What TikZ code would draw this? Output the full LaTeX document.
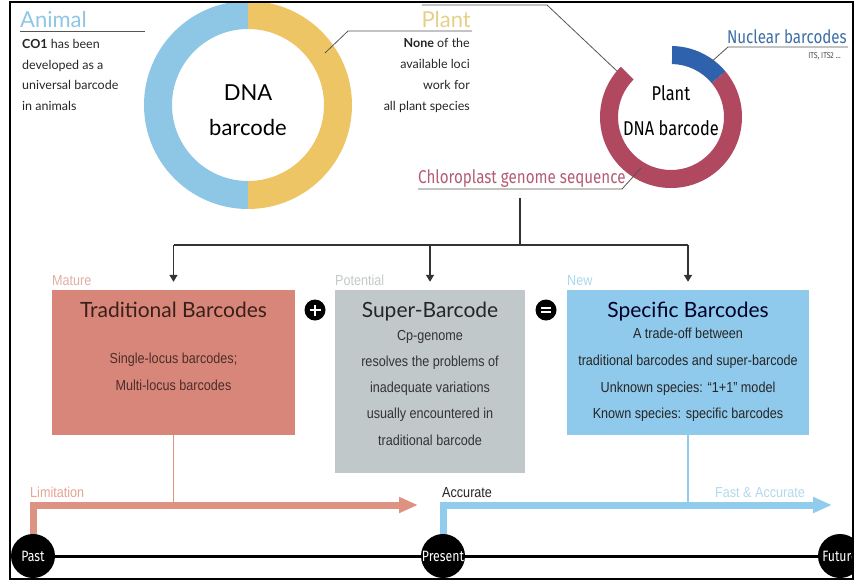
\documentclass[tikz,border=0pt]{standalone}
\usepackage{fontspec}
\setmainfont{Lato}
\newfontfamily\narrowfont[FakeStretch=0.87]{Liberation Sans}
\newfontfamily\condfont[FakeStretch=0.82]{Fira Sans}
\usetikzlibrary{arrows.meta,calc}
\definecolor{dnablue}{HTML}{8EC6E6}
\definecolor{dnayel}{HTML}{EDC565}
\definecolor{plantyel}{HTML}{E6CF88}
\definecolor{ringred}{HTML}{B0485F}
\definecolor{nucblue}{HTML}{2E62AC}
\definecolor{nuctext}{HTML}{3E6EA6}
\definecolor{chloroc}{HTML}{B35C74}
\definecolor{salmonbox}{HTML}{D8867A}
\definecolor{salmonarr}{HTML}{DE9282}
\definecolor{graybox}{HTML}{C1C8CA}
\definecolor{bluebox}{HTML}{8FC9EB}
\definecolor{bluearr}{HTML}{92CCEC}
\definecolor{maturec}{HTML}{E2ADA3}
\definecolor{potentialc}{HTML}{C3C7C9}
\definecolor{newc}{HTML}{A9D7EE}
\definecolor{limitc}{HTML}{E4A496}
\definecolor{fastc}{HTML}{B3D9EE}
\definecolor{leaderc}{HTML}{555555}
\definecolor{tradtitle}{HTML}{3B1F1A}
\definecolor{tradbody}{HTML}{4A2E28}
\newcommand\annsector[6]{%
  \fill[#1] ($(#2)+(#3:#5)$) arc[start angle=#3,end angle=#4,radius=#5]
    -- ($(#2)+(#4:#6)$) arc[start angle=#4,end angle=#3,radius=#6] -- cycle;}
\tikzset{
  smalltxt/.style={font=\fontsize{12.5}{14}\selectfont, inner sep=0pt, text=black!85},
  narrowtxt/.style={font=\narrowfont\fontsize{14.5}{16}\selectfont, inner sep=0pt, anchor=base},
  boxtitle/.style={font=\fontsize{21}{24}\selectfont, inner sep=0pt, anchor=base},
  bigtitle/.style={font=\fontsize{22}{24}\selectfont, inner sep=0pt, anchor=base},
  condtxt/.style={font=\condfont\fontsize{20}{22}\selectfont, inner sep=0pt, anchor=base},
  leader/.style={draw=leaderc, line width=0.8pt},
  treeline/.style={draw=black!80, line width=1.5pt},
  treearrow/.style={draw=black!80, line width=1.5pt, -{Triangle[length=7pt,width=8pt]}, shorten >=8pt},
  cbox/.style={draw=none, inner sep=0pt, rectangle},
  opc/.style={circle, fill=black, minimum size=21pt, inner sep=0pt},
  opbar/.style={draw=white, line width=2.4pt},
  tcircle/.style={circle, fill=black, minimum size=44pt, inner sep=0pt, text=white, font=\condfont\fontsize{15}{15}\selectfont},
  salarrow/.style={draw=salmonarr, line width=7pt, line join=miter, -{Triangle[length=19pt,width=15pt]}},
  bluearrow/.style={draw=bluearr, line width=7pt, line join=miter, -{Triangle[length=19pt,width=15pt]}},
  salstem/.style={draw=salmonarr, line width=1.2pt},
  bluestem/.style={draw=bluearr, line width=1.2pt},
}
\begin{document}
\begin{tikzpicture}[x=1pt,y=1pt]
\useasboundingbox (0,0) rectangle (856,-582);
\begin{scope}
\clip (10,-2) rectangle (853,-579);
% ---------- big DNA barcode donut
\coordinate (dna) at (248,-105);
\annsector{dnablue}{dna}{90}{270}{104pt}{76pt}
\annsector{dnayel}{dna}{-90}{90}{104pt}{76pt}
\node[bigtitle] (dna1) at (248,-100) {DNA};
\node[bigtitle] (dna2) at (248,-135) {barcode};
% ---------- Animal
\node[font=\fontsize{22}{24}\selectfont, text=dnablue, inner sep=0pt, anchor=base west] (animal) at (20,-27) {Animal};
\coordinate (anl) at (20,-31);
\coordinate (anr) at (145,-31);
\draw[leader] (anl) -- (anr);
\node[smalltxt, anchor=base west] (a1) at (22,-48) {\textbf{CO1} has been};
\node[smalltxt, anchor=base west] (a2) at (22,-69) {developed as a};
\node[smalltxt, anchor=base west] (a3) at (22,-89) {universal barcode};
\node[smalltxt, anchor=base west] (a4) at (22,-110) {in animals};
% ---------- Plant
\node[font=\fontsize{22}{24}\selectfont, text=plantyel, inner sep=0pt, anchor=base east] (plant) at (471,-27) {Plant};
\coordinate (plr) at (472,-31);
\coordinate (pll) at (348,-31);
\coordinate (plin) at (325,-53);
\draw[leader] (plr) -- (pll) -- (plin);
\node[smalltxt, anchor=base east] (p1) at (470,-47) {\textbf{None} of the};
\node[smalltxt, anchor=base east] (p2) at (470,-68) {available loci};
\node[smalltxt, anchor=base east] (p3) at (470,-89) {work for};
\node[smalltxt, anchor=base east] (p4) at (470,-110) {all plant species};
% ---------- top leader
\coordinate (tl1) at (422,-5);
\coordinate (tl2) at (547,-5);
\coordinate (tl3) at (618,-72);
\draw[leader] (tl1) -- (tl2) -- (tl3);
% ---------- Plant DNA barcode ring
\coordinate (pr) at (671,-117);
\annsector{ringred}{pr}{135}{400}{71pt}{53pt}
\annsector{nucblue}{pr}{40}{89}{71pt}{53pt}
\node[condtxt] (pr1) at (671,-100) {Plant};
\node[condtxt] (pr2) at (671,-135) {DNA barcode};
% Nuclear barcodes
\node[font=\condfont\fontsize{18.5}{20}\selectfont, text=nuctext, inner sep=0pt, anchor=base east] (nuc) at (847,-43) {Nuclear barcodes};
\coordinate (nu1) at (848,-47);
\coordinate (nu2) at (728,-47);
\coordinate (nu3) at (710,-63);
\draw[leader] (nu1) -- (nu2) -- (nu3);
\node[font=\condfont\fontsize{8.5}{9}\selectfont, text=black!70, inner sep=0pt, anchor=base east] (its) at (841,-58) {ITS, ITS2 ...};
% Chloroplast
\node[font=\condfont\fontsize{18.5}{20}\selectfont, text=chloroc, inner sep=0pt, anchor=base west] (chl) at (418,-183) {Chloroplast genome sequence};
\coordinate (ch1) at (418,-189);
\coordinate (ch2) at (622,-189);
\coordinate (ch3) at (641,-168);
\draw[leader] (ch1) -- (ch2) -- (ch3);
% ---------- boxes
\node[cbox, fill=salmonbox, minimum width=243pt, minimum height=145pt] (trad) at (173.5,-362.5) {};
\node[cbox, fill=graybox, minimum width=190pt, minimum height=183pt] (super) at (430,-381.5) {};
\node[cbox, fill=bluebox, minimum width=242pt, minimum height=145pt] (spec) at (688,-362.5) {};
% tree
\coordinate (stem) at (520,-198);
\coordinate (junc) at (520,-245);
\draw[treeline] (stem) -- (junc);
\draw[treeline] (trad.north |- junc) -- (spec.north |- junc);
\draw[treearrow] (trad.north |- junc) -- (trad.north);
\draw[treearrow] (super.north |- junc) -- (super.north);
\draw[treearrow] (spec.north |- junc) -- (spec.north);
% labels over boxes
\node[narrowtxt, anchor=base west, text=maturec] (mature) at (52,-285) {Mature};
\node[narrowtxt, anchor=base west, text=potentialc] (potential) at (335,-285) {Potential};
\node[narrowtxt, anchor=base west, text=newc] (new) at (567,-285) {New};
% operators
\node[opc] (plus) at (315,-310) {};
\draw[opbar] ($(plus)+(-5.5,0)$) -- ($(plus)+(5.5,0)$);
\draw[opbar] ($(plus)+(0,-5.5)$) -- ($(plus)+(0,5.5)$);
\node[opc] (equal) at (546,-310) {};
\draw[opbar, line width=2pt] ($(equal)+(-5,2.2)$) -- ($(equal)+(5,2.2)$);
\draw[opbar, line width=2pt] ($(equal)+(-5,-2.2)$) -- ($(equal)+(5,-2.2)$);
% box titles
\node[boxtitle, text=tradtitle] (tt) at (173.5,-317.5) {Traditional Barcodes};
\node[boxtitle, text=black!85] (st) at (430,-317.5) {Super-Barcode};
\node[boxtitle, text=black!85!blue] (pt) at (688,-317.5) {Specific Barcodes};
% box bodies
\node[narrowtxt, text=tradbody] (tb1) at (173.5,-363) {Single-locus barcodes;};
\node[narrowtxt, text=tradbody] (tb2) at (173.5,-390) {Multi-locus barcodes};
\node[narrowtxt, text=black!80] (sb1) at (430,-340) {Cp-genome};
\node[narrowtxt, text=black!80] (sb2) at (430,-366) {resolves the problems of};
\node[narrowtxt, text=black!80] (sb3) at (430,-392) {inadequate variations};
\node[narrowtxt, text=black!80] (sb4) at (430,-418) {usually encountered in};
\node[narrowtxt, text=black!80] (sb5) at (430,-445) {traditional barcode};
\node[narrowtxt, text=black!85] (pb1) at (688,-338) {A trade-off between};
\node[narrowtxt, text=black!85] (pb2) at (688,-365) {traditional barcodes and super-barcode};
\node[narrowtxt, text=black!85] (pb3) at (688,-392) {Unknown species: “1+1” model};
\node[narrowtxt, text=black!85] (pb4) at (688,-418) {Known species: specific barcodes};
% ---------- timeline
\coordinate (pastc) at (33,-556);
\coordinate (presc) at (443,-556);
\coordinate (futc) at (840,-556);
\coordinate (limtip) at (418,-505);
\coordinate (acctip) at (832,-505);
\draw[black, line width=3pt] (pastc) -- (futc);
\draw[salarrow] (pastc) |- (limtip);
\draw[bluearrow] (presc) |- (acctip);
\draw[salstem] (trad.south) -- (trad.south |- limtip);
\draw[bluestem] (spec.south) -- (spec.south |- acctip);
\node[narrowtxt, anchor=base west, text=limitc] (limit) at (30,-497) {Limitation};
\node[narrowtxt, anchor=base west, text=black!85] (accurate) at (442,-497) {Accurate};
\node[narrowtxt, anchor=base west, text=fastc] (fast) at (715,-497) {Fast \& Accurate};
\node[tcircle] (past) at (pastc) {Past};
\node[tcircle] (present) at (presc) {Present};
\node[tcircle] (future) at (futc) {Future};
\end{scope}
\draw[black, line width=2pt] (10,-2) rectangle (853,-579);
\end{tikzpicture}
\end{document}
